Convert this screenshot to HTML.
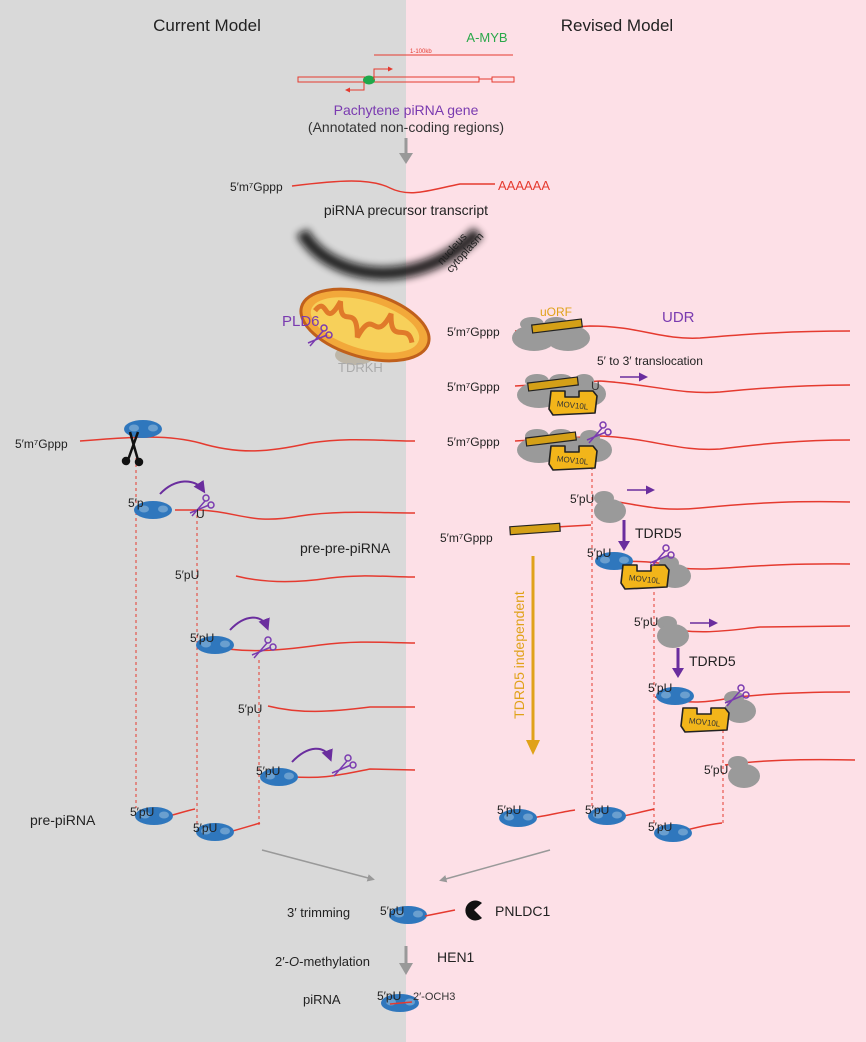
<!DOCTYPE html>
<html><head><meta charset="utf-8"><style>
html,body{margin:0;padding:0;width:866px;height:1042px;overflow:hidden}
svg{display:block;font-family:"Liberation Sans",sans-serif}
</style></head><body>
<svg width="866" height="1042" viewBox="0 0 866 1042" xmlns="http://www.w3.org/2000/svg">
<defs>
<filter id="bl" x="-20%" y="-50%" width="140%" height="200%"><feGaussianBlur stdDeviation="4"/></filter>
<g id="blue"><ellipse cx="0" cy="0" rx="19" ry="9" fill="#2f77bd"/><ellipse cx="-9" cy="-1" rx="5" ry="3.5" fill="#6a9fcf"/><ellipse cx="10" cy="-1" rx="5" ry="3.5" fill="#6a9fcf"/></g>
<g id="gray"><ellipse cx="-6" cy="-7" rx="10" ry="7" fill="#9a9a9a"/><ellipse cx="0" cy="6" rx="16" ry="12" fill="#9a9a9a"/></g>
<g id="big"><ellipse cx="-28" cy="-6" rx="12" ry="7" fill="#9a9a9a"/><ellipse cx="-4" cy="-6" rx="12" ry="7" fill="#9a9a9a"/><ellipse cx="-26" cy="8" rx="22" ry="13" fill="#9a9a9a"/><ellipse cx="8" cy="8" rx="22" ry="13" fill="#9a9a9a"/></g>
<g id="mov"><path d="M-22,-10 L-8,-10 L-8,-4 L6,-4 L6,-10 L20,-10 L24,-5 L22,12 L-20,14 L-24,8 Z" fill="#f2b51a" stroke="#222" stroke-width="1.6" stroke-linejoin="round"/><text x="0" y="7" font-size="8" text-anchor="middle" fill="#333" transform="rotate(6)">MOV10L</text></g>
<g id="sc" fill="none" stroke="#7a3bb0" stroke-width="1.5"><circle cx="6" cy="-12" r="3"/><circle cx="11" cy="-5" r="3"/><path d="M5,-9 L-8,6 M9,-5 L-10,3"/></g>
<marker id="pa" markerWidth="6" markerHeight="6" refX="4" refY="3" orient="auto"><path d="M0,0 L6,3 L0,6 Z" fill="#6a2d9e"/></marker>
<marker id="ga" markerWidth="5" markerHeight="5" refX="3" refY="2.5" orient="auto"><path d="M0,0 L5,2.5 L0,5 Z" fill="#999"/></marker>
<marker id="ra" markerWidth="5" markerHeight="5" refX="4" refY="2.5" orient="auto"><path d="M0,0 L5,2.5 L0,5 Z" fill="#e53a2f"/></marker>
</defs>
<rect x="0" y="0" width="406" height="1042" fill="#d9d9d9"/>
<rect x="406" y="0" width="460" height="1042" fill="#fde0e7"/>
<text x="207" y="31" font-size="17" text-anchor="middle" fill="#222">Current Model</text>
<text x="617" y="31" font-size="17" text-anchor="middle" fill="#222">Revised Model</text>

<text x="487" y="42" font-size="13" text-anchor="middle" fill="#2aa84a">A-MYB</text>
<line x1="374" y1="55" x2="513" y2="55" stroke="#e53a2f" stroke-width="1"/>
<text x="410" y="53" font-size="6" fill="#e53a2f">1-100kb</text>
<rect x="298" y="77" width="181" height="5" fill="none" stroke="#e53a2f" stroke-width="1"/>
<line x1="479" y1="79" x2="492" y2="79" stroke="#e53a2f"/>
<rect x="492" y="77" width="22" height="5" fill="none" stroke="#e53a2f" stroke-width="1"/>
<ellipse cx="369" cy="80" rx="6" ry="4.5" fill="#1fa84a"/>
<path d="M374,80 V69 H392" fill="none" stroke="#e53a2f" marker-end="url(#ra)"/>
<path d="M364,82 V90 H346" fill="none" stroke="#e53a2f" marker-end="url(#ra)"/>
<text x="406" y="115" font-size="14" text-anchor="middle" fill="#7a3bb0">Pachytene piRNA gene</text>
<text x="406" y="132" font-size="14" text-anchor="middle" fill="#333">(Annotated non-coding regions)</text>
<line x1="406" y1="138" x2="406" y2="155" stroke="#999" stroke-width="3"/><path d="M399,153 L413,153 L406,164 Z" fill="#999"/>
<text x="230" y="191" font-size="12" fill="#222">5′m⁷Gppp</text>
<path d="M292,186 C340,180 370,178 390,188 C410,198 430,190 460,184 L495,184" fill="none" stroke="#e53a2f" stroke-width="1.5"/>
<text x="498" y="190" font-size="13" fill="#e53a2f">AAAAAA</text>
<text x="406" y="215" font-size="14" text-anchor="middle" fill="#222">piRNA precursor transcript</text>
<path d="M302,232 C330,282 420,292 478,232" fill="none" stroke="#111" stroke-width="13" filter="url(#bl)" opacity="0.9"/>
<g transform="translate(445,268) rotate(-48)" font-size="11" fill="#222"><text x="0" y="-4">nucleus</text><text x="0" y="8">cytoplasm</text></g>

<ellipse cx="355" cy="355" rx="20" ry="10" fill="#bdb6a8"/>
<g transform="translate(365,325) rotate(16)"><ellipse rx="66" ry="32" fill="#f2a83a" stroke="#c0601c" stroke-width="3"/><ellipse rx="56" ry="24" fill="#f7d05a"/><path d="M-52,0 C-44,-20 -38,18 -30,-16 C-22,14 -14,-22 -4,14 C4,-22 14,18 22,-18 C30,14 40,-16 50,4" fill="none" stroke="#e07a2a" stroke-width="5"/></g>
<text x="282" y="326" font-size="15" fill="#7a3bb0">PLD6</text>
<use href="#sc" x="318" y="340"/>
<text x="338" y="372" font-size="13" fill="#aaa">TDRKH</text>

<g fill="none" stroke="#e53a2f" stroke-width="1.5">
<path d="M80,441 C140,436 170,435 200,443 C240,455 270,452 310,443 C350,437 380,441 415,441"/>
<path d="M175,510 L200,510 C240,512 250,525 300,516 C340,510 380,513 415,513"/>
<path d="M236,576 C260,582 290,584 330,578 C360,574 390,577 415,577"/>
<path d="M205,645 C240,653 270,652 320,645 C360,640 390,643 415,643"/>
<path d="M268,706 C300,714 330,712 370,707 L415,707"/>
<path d="M285,776 C320,780 340,775 370,769 L415,770"/>
<path d="M160,818 C175,815 185,811 195,809"/>
<path d="M222,834 C240,829 250,826 260,823"/>
</g>
<g stroke="#e53a2f" stroke-width="1" stroke-dasharray="3,3"><line x1="136" y1="458" x2="136" y2="808"/><line x1="197" y1="515" x2="197" y2="826"/><line x1="259" y1="660" x2="259" y2="826"/></g>
<text x="15" y="448" font-size="12" fill="#222">5′m⁷Gppp</text>
<use href="#blue" x="143" y="429"/>
<g stroke="#111" stroke-width="2.5" fill="#111"><line x1="130" y1="432" x2="138" y2="460"/><line x1="138" y1="432" x2="128" y2="460"/><circle cx="126" cy="461" r="3"/><circle cx="139" cy="462" r="3"/></g>
<use href="#blue" x="153" y="510"/>
<text x="128" y="507" font-size="12" fill="#222">5′p</text>
<path d="M160,494 C175,478 195,478 203,490" fill="none" stroke="#6a2d9e" stroke-width="2" marker-end="url(#pa)"/>
<use href="#sc" x="200" y="510"/><text x="196" y="518" font-size="12" fill="#222">U</text>
<text x="300" y="553" font-size="14" fill="#222">pre-pre-piRNA</text>
<text x="175" y="579" font-size="12" fill="#222">5′pU</text>
<use href="#blue" x="215" y="645"/><text x="190" y="642" font-size="12" fill="#222">5′pU</text>
<path d="M230,630 C245,614 262,614 267,627" fill="none" stroke="#6a2d9e" stroke-width="2" marker-end="url(#pa)"/>
<use href="#sc" x="262" y="652"/>
<text x="238" y="713" font-size="12" fill="#222">5′pU</text>
<use href="#blue" x="279" y="777"/><text x="256" y="775" font-size="12" fill="#222">5′pU</text>
<path d="M292,762 C308,745 325,745 330,758" fill="none" stroke="#6a2d9e" stroke-width="2" marker-end="url(#pa)"/>
<use href="#sc" x="342" y="770"/>
<text x="30" y="825" font-size="14" fill="#222">pre-piRNA</text>
<use href="#blue" x="154" y="816"/><text x="130" y="816" font-size="12" fill="#222">5′pU</text>
<use href="#blue" x="215" y="832"/><text x="193" y="832" font-size="12" fill="#222">5′pU</text>

<g fill="none" stroke="#e53a2f" stroke-width="1.5">
<path d="M515,331 L590,326 C640,326 660,340 700,338 C740,335 780,331 850,331"/>
<path d="M515,386 L600,381 C650,384 680,395 720,392 C760,388 800,385 850,385"/>
<path d="M515,441 L600,436 C650,438 680,452 720,449 C760,444 800,440 850,440"/>
<path d="M600,499 C640,505 660,512 700,508 C760,502 800,501 850,502"/>
<path d="M520,529 L591,525"/>
<path d="M598,560 C630,562 660,560 680,568 C720,572 740,563 850,564"/>
<path d="M660,627 C700,636 730,630 760,627 L850,626"/>
<path d="M655,697 C690,705 710,702 730,698 C760,694 800,692 850,692"/>
<path d="M725,765 C760,760 800,759 855,760"/>
<path d="M510,820 C530,820 560,812 575,810"/>
<path d="M598,820 C620,818 640,812 654,809"/>
<path d="M658,836 C680,833 700,825 722,823"/>
</g>
<g stroke="#e53a2f" stroke-width="1" stroke-dasharray="3,3"><line x1="592" y1="455" x2="592" y2="808"/><line x1="654" y1="592" x2="654" y2="826"/><line x1="723" y1="718" x2="723" y2="826"/></g>
<text x="540" y="316" font-size="12" fill="#e0a21a">uORF</text>
<text x="662" y="322" font-size="15" fill="#7a3bb0">UDR</text>
<text x="447" y="336" font-size="12" fill="#222">5′m⁷Gppp</text>
<use href="#big" x="560" y="330"/>
<rect x="532" y="322" width="50" height="8" fill="#d4a017" stroke="#222" stroke-width="1.2" transform="rotate(-7 557 326)"/>
<text x="597" y="365" font-size="12" fill="#222">5′ to 3′ translocation</text>
<line x1="620" y1="377" x2="645" y2="377" stroke="#6a2d9e" stroke-width="1.5" marker-end="url(#pa)"/>
<text x="447" y="391" font-size="12" fill="#222">5′m⁷Gppp</text>
<use href="#big" x="565" y="387"/><use href="#gray" x="590" y="388"/>
<rect x="528" y="380" width="50" height="8" fill="#d4a017" stroke="#222" stroke-width="1.2" transform="rotate(-7 553 384)"/>
<text x="591" y="390" font-size="12" fill="#333">U</text>
<use href="#mov" x="573" y="401"/>
<text x="447" y="446" font-size="12" fill="#222">5′m⁷Gppp</text>
<use href="#big" x="565" y="442"/><use href="#gray" x="596" y="444"/>
<rect x="526" y="435" width="50" height="8" fill="#d4a017" stroke="#222" stroke-width="1.2" transform="rotate(-7 551 439)"/>
<use href="#mov" x="573" y="456"/><use href="#sc" x="597" y="437"/>
<text x="570" y="503" font-size="12" fill="#222">5′pU</text>
<use href="#gray" x="610" y="505"/>
<line x1="627" y1="490" x2="652" y2="490" stroke="#6a2d9e" stroke-width="1.5" marker-end="url(#pa)"/>
<text x="440" y="542" font-size="12" fill="#222">5′m⁷Gppp</text>
<rect x="510" y="525" width="50" height="8" fill="#d4a017" stroke="#222" stroke-width="1.2" transform="rotate(-4 535 529)"/>
<line x1="624" y1="520" x2="624" y2="543" stroke="#6a2d9e" stroke-width="3"/><path d="M618,541 L630,541 L624,551 Z" fill="#6a2d9e"/>
<text x="635" y="538" font-size="14" fill="#222">TDRD5</text>
<line x1="533" y1="556" x2="533" y2="742" stroke="#e0a21a" stroke-width="3"/><path d="M526,740 L540,740 L533,755 Z" fill="#e0a21a"/>
<text transform="translate(524,655) rotate(-90)" font-size="14" fill="#e0a21a" text-anchor="middle">TDRD5 independent</text>
<use href="#gray" x="675" y="570"/>
<use href="#blue" x="614" y="561"/><text x="587" y="557" font-size="12" fill="#222">5′pU</text>
<use href="#mov" x="645" y="575"/><use href="#sc" x="660" y="560"/>
<text x="634" y="626" font-size="12" fill="#222">5′pU</text>
<use href="#gray" x="673" y="630"/>
<line x1="690" y1="623" x2="715" y2="623" stroke="#6a2d9e" stroke-width="1.5" marker-end="url(#pa)"/>
<line x1="678" y1="648" x2="678" y2="670" stroke="#6a2d9e" stroke-width="3"/><path d="M672,668 L684,668 L678,678 Z" fill="#6a2d9e"/>
<text x="689" y="666" font-size="14" fill="#222">TDRD5</text>
<use href="#gray" x="740" y="705"/>
<use href="#blue" x="675" y="696"/><text x="648" y="692" font-size="12" fill="#222">5′pU</text>
<use href="#mov" x="705" y="718"/><use href="#sc" x="735" y="700"/>
<text x="704" y="774" font-size="12" fill="#222">5′pU</text>
<use href="#gray" x="744" y="770"/>
<use href="#blue" x="518" y="818"/><text x="497" y="814" font-size="12" fill="#222">5′pU</text>
<use href="#blue" x="607" y="816"/><text x="585" y="814" font-size="12" fill="#222">5′pU</text>
<use href="#blue" x="673" y="833"/><text x="648" y="831" font-size="12" fill="#222">5′pU</text>

<line x1="262" y1="850" x2="372" y2="879" stroke="#999" stroke-width="1.5" marker-end="url(#ga)"/>
<line x1="550" y1="850" x2="442" y2="880" stroke="#999" stroke-width="1.5" marker-end="url(#ga)"/>
<text x="287" y="917" font-size="13" fill="#222">3′ trimming</text>
<use href="#blue" x="408" y="915"/><text x="380" y="915" font-size="12" fill="#222">5′pU</text>
<path d="M425,916 L455,910" stroke="#e53a2f" stroke-width="1.5"/>
<path d="M482,903 A10,10 0 1 0 482,918 L474,910 Z" fill="#111"/>
<text x="495" y="916" font-size="14" fill="#222">PNLDC1</text>
<text x="275" y="966" font-size="13" fill="#222">2′-<tspan font-style="italic">O</tspan>-methylation</text>
<line x1="406" y1="946" x2="406" y2="965" stroke="#999" stroke-width="3"/><path d="M399,963 L413,963 L406,975 Z" fill="#999"/>
<text x="437" y="962" font-size="14" fill="#222">HEN1</text>
<text x="303" y="1004" font-size="13" fill="#222">piRNA</text>
<use href="#blue" x="400" y="1003"/><text x="377" y="1000" font-size="12" fill="#222">5′pU</text>
<path d="M390,1004 L412,1002" stroke="#e53a2f" stroke-width="1.5"/>
<text x="413" y="1000" font-size="11" fill="#333">2′-OCH3</text>
</svg>
</body></html>
